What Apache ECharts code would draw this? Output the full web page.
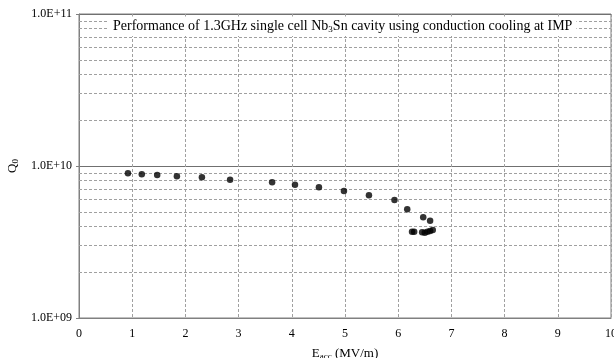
<!DOCTYPE html>
<html>
<head>
<meta charset="utf-8">
<script src="https://cdn.jsdelivr.net/npm/echarts@6/dist/echarts.min.js"></script>
<style>html,body{margin:0;padding:0;background:#fff}#c{width:614px;height:358px}</style>
</head>
<body>
<div id="c"></div>
<script>
var eacc = [0.92, 1.18, 1.47, 1.84, 2.31, 2.84, 3.63, 4.06, 4.51, 4.98, 5.45, 5.93, 6.17, 6.47, 6.60, 6.26, 6.30, 6.45, 6.50, 6.55, 6.60, 6.65];
var q0 = [8.95e9, 8.82e9, 8.72e9, 8.55e9, 8.43e9, 8.13e9, 7.81e9, 7.53e9, 7.24e9, 6.84e9, 6.41e9, 5.98e9, 5.19e9, 4.60e9, 4.37e9, 3.70e9, 3.70e9, 3.66e9, 3.64e9, 3.70e9, 3.74e9, 3.79e9];
var minorGrid = [2e9, 3e9, 4e9, 5e9, 6e9, 7e9, 8e9, 9e9, 2e10, 3e10, 4e10, 5e10, 6e10, 7e10, 8e10, 9e10];
var xTicks = [0, 1, 2, 3, 4, 5, 6, 7, 8, 9, 10];

function fmtE(v) {
  var e = Math.round(Math.log10(v));
  var m = v / Math.pow(10, e);
  var s = e < 0 ? '-' : '+';
  var ae = Math.abs(e);
  return m.toFixed(1) + 'E' + s + (ae < 10 ? '0' + ae : '' + ae);
}

var serif = '"Liberation Serif", "DejaVu Serif", serif';
var chart = echarts.init(document.getElementById('c'));
chart.setOption({
  animation: false,
  backgroundColor: '#fff',
  title: {
    text: 'Performance of 1.3GHz single cell Nb{sub|3}Sn cavity using conduction cooling at IMP',
    left: 108,
    top: 16,
    padding: [3, 4, 2, 5],
    backgroundColor: '#fff',
    textStyle: {
      fontFamily: serif, fontSize: 14, fontWeight: 'normal', color: '#000',
      rich: { sub: { fontFamily: serif, fontSize: 9, color: '#000', verticalAlign: 'bottom', padding: [6, 0, 0, 0] } }
    }
  },
  grid: { left: 79, right: 3, top: 14, bottom: 40, outerBoundsMode: 'none', containLabel: false, show: true, borderColor: '#808080', borderWidth: 1, backgroundColor: 'transparent', z: 0 },
  xAxis: {
    type: 'value', min: xTicks[0], max: xTicks[xTicks.length - 1], interval: 1,
    name: 'E{sub|acc} (MV/m)', nameLocation: 'middle', nameGap: 29,
    nameTextStyle: { fontFamily: serif, fontSize: 13, color: '#000', rich: { sub: { fontFamily: serif, fontSize: 9, color: '#000', verticalAlign: 'bottom', padding: [5, 0, 0, 0] } } },
    axisLine: { lineStyle: { color: '#808080' } },
    axisTick: { show: false },
    axisLabel: { fontFamily: serif, fontSize: 12, color: '#000', margin: 10 },
    splitLine: { show: true, lineStyle: { color: '#a0a0a0', type: [3, 2], width: 1 } }
  },
  yAxis: {
    type: 'log', logBase: 10, min: 1e9, max: 1e11,
    name: 'Q{sub|0}', nameLocation: 'middle', nameRotate: 90, nameGap: 56,
    nameTextStyle: { fontFamily: serif, fontSize: 13, color: '#000', rich: { sub: { fontFamily: serif, fontSize: 9, color: '#000', verticalAlign: 'bottom', padding: [5, 0, 0, 0] } } },
    axisLine: { show: true, lineStyle: { color: '#808080' } },
    axisTick: { show: true, length: 3, lineStyle: { color: '#808080' } },
    axisLabel: { fontFamily: serif, fontSize: 12, color: '#000', margin: 7, formatter: fmtE },
    splitLine: { show: true, lineStyle: { color: '#707070', type: 'solid', width: 1 } }
  },
  series: [{
    type: 'scatter',
    data: eacc.map(function (x, i) { return [x, q0[i]]; }),
    symbol: 'circle', symbolSize: 6.5,
    itemStyle: { color: '#000' },
    z: 5,
    markLine: {
      silent: true, symbol: ['none', 'none'], label: { show: false },
      lineStyle: { color: '#a0a0a0', type: [3, 2], width: 1 },
      animation: false,
      z: 1,
      data: minorGrid.map(function (v) { return { yAxis: v }; })
    }
  }]
});
</script>
</body>
</html>
